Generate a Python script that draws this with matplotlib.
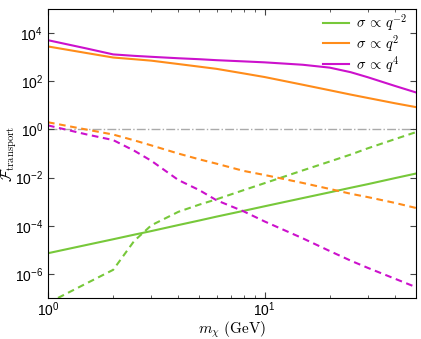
import numpy as np
import matplotlib
matplotlib.use("Agg")
import matplotlib.pyplot as plt
from matplotlib.ticker import FixedLocator, NullLocator, LogLocator, NullFormatter

plt.rcParams["font.family"] = ["Liberation Sans", "DejaVu Sans"]
plt.rcParams["mathtext.fontset"] = "cm"

# dark matter mass grid (GeV)
m_chi = [1, 1.5, 2, 2.5, 3, 4, 5, 6, 8, 10, 15, 20, 25, 30, 40, 50]

# log10 of F_transport
# solid lines
log_solid_qm2 = [-5.14, -4.80, -4.56, -4.37, -4.22, -3.97, -3.78, -3.62,
                 -3.38, -3.19, -2.85, -2.61, -2.42, -2.27, -2.02, -1.83]
log_solid_q2 = [3.45, 3.18, 2.99, 2.92, 2.86, 2.72, 2.61, 2.52,
                2.33, 2.18, 1.86, 1.63, 1.45, 1.31, 1.09, 0.93]
log_solid_q4 = [3.71, 3.37, 3.12, 3.06, 3.02, 2.96, 2.92, 2.88,
                2.83, 2.79, 2.69, 2.57, 2.38, 2.17, 1.81, 1.54]

# dashed lines
log_dash_qm2 = [-7.21, -6.40, -5.83, -4.63, -3.98, -3.42, -3.12, -2.90,
                -2.52, -2.23, -1.70, -1.33, -1.04, -0.78, -0.40, -0.11]
log_dash_q2 = [0.30, 0.00, -0.21, -0.45, -0.66, -1.00, -1.24, -1.42,
               -1.72, -1.89, -2.22, -2.47, -2.67, -2.81, -3.05, -3.26]
log_dash_q4 = [0.17, -0.20, -0.44, -0.88, -1.30, -2.10, -2.52, -2.94,
               -3.40, -3.82, -4.52, -5.05, -5.45, -5.75, -6.20, -6.55]

labels = [r"$\sigma\,\propto\,q^{-2}$", r"$\sigma\,\propto\,q^{2}$",
          r"$\sigma\,\propto\,q^{4}$"]
colors = ["#77c83a", "#ff8c1a", "#cc11cc"]

fig = plt.figure(figsize=(4.21, 3.39), dpi=100)
ax = fig.add_axes([0.114, 0.121, 0.874, 0.852])

m = np.array(m_chi)
solids = [log_solid_qm2, log_solid_q2, log_solid_q4]
dashes = [log_dash_qm2, log_dash_q2, log_dash_q4]

ax.axhline(1.0, color="#aaaaaa", lw=1.0, ls="-.", zorder=1)

for vals, c, lab in zip(solids, colors, labels):
    ax.plot(m, 10 ** np.array(vals), color=c, lw=1.5, label=lab)
for vals, c in zip(dashes, colors):
    ax.plot(m, 10 ** np.array(vals), color=c, lw=1.5, ls="--",
            dashes=(3.2, 2.2))

ax.set_xscale("log")
ax.set_yscale("log")
ax.set_xlim(1, 50)
ax.set_ylim(1e-7, 1e5)

ax.yaxis.set_major_locator(FixedLocator([1e-6, 1e-4, 1e-2, 1e0, 1e2, 1e4]))
ax.yaxis.set_minor_locator(NullLocator())
ax.xaxis.set_minor_locator(LogLocator(base=10, subs=np.arange(2, 10)))
ax.xaxis.set_minor_formatter(NullFormatter())

ax.tick_params(which="both", direction="in", top=True, right=True,
               labelsize=10, color="#444444")
ax.tick_params(which="major", length=4)
ax.tick_params(which="minor", length=2.5)
ax.tick_params(axis="x", pad=2)

ax.set_xlabel(r"$m_\chi\ (\mathrm{GeV})$", fontsize=11)
ax.set_ylabel(r"$\mathcal{F}_{\rm transport}$", fontsize=11)
ax.xaxis.set_label_coords(0.5, -0.074)
ax.yaxis.set_label_coords(-0.08, 0.5)

ax.legend(loc="upper right", bbox_to_anchor=(1.0, 1.02), frameon=False,
          fontsize=10.5, handlelength=1.8, handletextpad=0.5,
          labelspacing=0.0, borderaxespad=0.2)

fig.savefig("out.png", dpi=100)
